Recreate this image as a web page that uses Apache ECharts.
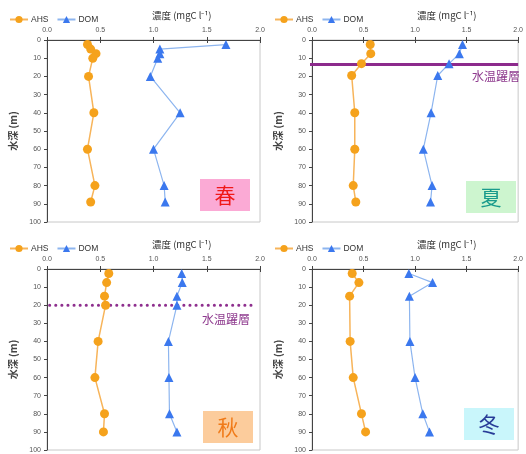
<!DOCTYPE html>
<html>
<head>
<meta charset="utf-8">
<script src="https://cdn.jsdelivr.net/npm/echarts@6/dist/echarts.min.js"></script>
<style>
  html, body { margin: 0; padding: 0; background: #fff; }
  #chart { width: 526px; height: 454px; }
</style>
</head>
<body>
<div id="chart"></div>
<script>
// depth (m) and concentration (mgC l-1) per season
const springDepth = [2.5, 5, 7.5, 10, 20, 40, 60, 80, 89];
const springAHS = [0.38, 0.41, 0.46, 0.43, 0.39, 0.44, 0.38, 0.45, 0.41];
const springDOM = [1.68, 1.06, 1.06, 1.04, 0.97, 1.25, 1.0, 1.10, 1.11];

const summerDepth = [2.5, 7.5, 13, 19.5, 40, 60, 80, 89];
const summerAHS = [0.565, 0.57, 0.48, 0.385, 0.415, 0.415, 0.40, 0.425];
const summerDOM = [1.46, 1.43, 1.33, 1.22, 1.155, 1.08, 1.165, 1.15];

const autumnDepth = [2.5, 7.5, 15, 20, 40, 60, 80, 90];
const autumnAHS = [0.58, 0.56, 0.54, 0.55, 0.48, 0.45, 0.54, 0.53];
const autumnDOM = [1.265, 1.27, 1.22, 1.22, 1.14, 1.145, 1.15, 1.22];

const winterDepth = [2.5, 7.5, 15, 40, 60, 80, 90];
const winterAHS = [0.39, 0.455, 0.365, 0.37, 0.40, 0.48, 0.52];
const winterDOM = [0.94, 1.17, 0.945, 0.95, 1.0, 1.075, 1.14];

// thermocline depth (summer solid, autumn dotted); x span of the drawn line
const summerThermo = 13.5;
const autumnThermo = 20;
const summerSpan = [-0.07, 2.0];
const autumnSpan = [-0.09, 1.97];

const xTicks = ["0.0", "0.5", "1.0", "1.5", "2.0"];
const seasons = ["春", "夏", "秋", "冬"];

const ORANGE = "#f5a21c";
const ORANGE_LINE = "#f7b45a";
const BLUE = "#3b78ee";
const BLUE_LINE = "#8db5ef";
const PURPLE = "#8c2a8c";
const FONT = "Liberation Sans, Arial, sans-serif";
const JP = "Noto Sans CJK JP, sans-serif";

const panels = [
  { depth: springDepth, ahs: springAHS, dom: springDOM, left: 47, top: 40, width: 213, height: 182 },
  { depth: summerDepth, ahs: summerAHS, dom: summerDOM, left: 312, top: 40, width: 211, height: 182 },
  { depth: autumnDepth, ahs: autumnAHS, dom: autumnDOM, left: 47, top: 269, width: 213, height: 181 },
  { depth: winterDepth, ahs: winterAHS, dom: winterDOM, left: 312, top: 269, width: 211, height: 181 },
];

const chart = echarts.init(document.getElementById("chart"));

const grid = [], xAxis = [], yAxis = [], series = [], legend = [];

panels.forEach((p, i) => {
  grid.push({
    left: p.left, top: p.top, width: p.width, height: p.height,
    show: true, borderColor: "#c8c8c8", borderWidth: 1,
  });
  xAxis.push({
    gridIndex: i, type: "value", position: "top", min: 0, max: 2, interval: 0.5,
    axisLine: { show: true, onZero: false, lineStyle: { color: "#444", width: 1 } },
    axisTick: { show: true, length: 3, lineStyle: { color: "#444" } },
    axisLabel: {
      fontSize: 7, color: "#555", fontFamily: FONT, margin: 6,
      formatter: (v) => xTicks[Math.round(v * 2)],
    },
    splitLine: { show: false },
  });
  yAxis.push({
    gridIndex: i, type: "value", inverse: true, min: 0, max: 100, interval: 10,
    name: "水深 (m)", nameLocation: "middle", nameRotate: 90, nameGap: 29,
    nameTextStyle: { fontSize: 10, color: "#444", fontFamily: JP, fontWeight: "bold" },
    axisLine: { show: true, onZero: false, lineStyle: { color: "#444", width: 1 } },
    axisTick: { show: true, length: 3, lineStyle: { color: "#444" } },
    axisLabel: { fontSize: 7, color: "#555", fontFamily: FONT, margin: 6 },
    splitLine: { show: false },
  });
  series.push({
    name: "AHS", type: "line", xAxisIndex: i, yAxisIndex: i,
    data: p.depth.map((d, k) => [p.ahs[k], d]),
    symbol: "circle", symbolSize: 9, color: ORANGE,
    itemStyle: { color: ORANGE },
    lineStyle: { color: ORANGE_LINE, width: 1.5 },
    z: 4,
  });
  series.push({
    name: "DOM", type: "line", xAxisIndex: i, yAxisIndex: i,
    data: p.depth.map((d, k) => [p.dom[k], d]),
    symbol: "triangle", symbolSize: 9, color: BLUE,
    itemStyle: { color: BLUE },
    lineStyle: { color: BLUE_LINE, width: 1.2 },
    z: 4,
  });
  legend.push({
    left: p.left - 43, top: p.top - 30,
    data: ["AHS", "DOM"],
    itemWidth: 18, itemHeight: 9, itemGap: 8,
    textStyle: { fontSize: 8.5, color: "#333", fontFamily: FONT, padding: [0, 0, 0, -2] },
    selectedMode: false,
  });
});

// inside ticks so the tick marks cross the axis lines
panels.forEach((p, i) => {
  xAxis.push({
    gridIndex: i, type: "value", position: "top", min: 0, max: 2, interval: 0.5,
    axisLine: { show: false }, axisLabel: { show: false }, splitLine: { show: false },
    axisTick: { show: true, inside: true, length: 3, lineStyle: { color: "#444" } },
  });
  yAxis.push({
    gridIndex: i, type: "value", inverse: true, min: 0, max: 100, interval: 10,
    axisLine: { show: false }, axisLabel: { show: false }, splitLine: { show: false },
    axisTick: { show: true, inside: true, length: 3, lineStyle: { color: "#444" } },
  });
});

// thermocline lines
series.push({
  name: "thermo-summer", type: "line", xAxisIndex: 1, yAxisIndex: 1,
  data: summerSpan.map((x) => [x, summerThermo]),
  symbol: "none", clip: false, silent: true, z: 3,
  lineStyle: { color: PURPLE, width: 3 },
});
series.push({
  name: "thermo-autumn", type: "line", xAxisIndex: 2, yAxisIndex: 2,
  data: autumnSpan.map((x) => [x, autumnThermo]),
  symbol: "none", clip: false, silent: true, z: 3,
  lineStyle: { color: "#8e2f8e", width: 3, type: [0.1, 6], cap: "round" },
});

const seasonBoxes = [
  { x: 200, y: 179, fill: "#fbaad5", color: "#f01818" },
  { x: 466, y: 181, fill: "#cdf5cf", color: "#1a9b8c" },
  { x: 203, y: 411, fill: "#fccc9c", color: "#f07a18" },
  { x: 464, y: 408, fill: "#c9f6fb", color: "#283c98" },
];

const graphic = [];
panels.forEach((p) => {
  graphic.push({
    type: "text", left: p.left + 105, top: p.top - 29,
    style: { text: "濃度 (mgC l⁻¹)", fontSize: 9.5, fill: "#333", fontFamily: JP },
  });
});
seasonBoxes.forEach((b, i) => {
  graphic.push({
    type: "rect", shape: { x: b.x, y: b.y, width: 50, height: 32 },
    style: { fill: b.fill },
  });
  graphic.push({
    type: "text", x: b.x + 25, y: b.y + 16,
    style: { text: seasons[i], fontSize: 21, fill: b.color, fontFamily: JP, align: "center", verticalAlign: "middle" },
  });
});
graphic.push({
  type: "text", x: 520, y: 76,
  style: { text: "水温躍層", fontSize: 12, fill: "#8e3a8e", fontFamily: JP, align: "right", verticalAlign: "middle" },
});
graphic.push({
  type: "text", x: 250, y: 319,
  style: { text: "水温躍層", fontSize: 12, fill: "#8e3a8e", fontFamily: JP, align: "right", verticalAlign: "middle" },
});

chart.setOption({
  backgroundColor: "#fff",
  animation: false,
  grid, xAxis, yAxis, series, legend, graphic,
});
</script>
</body>
</html>
